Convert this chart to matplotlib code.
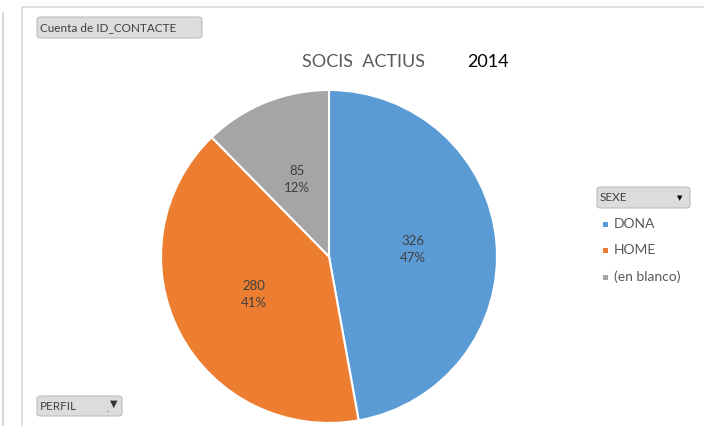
import matplotlib.pyplot as plt
from matplotlib.patches import FancyBboxPatch, Rectangle

plt.rcParams['font.family'] = ['Lato', 'DejaVu Sans']

# data
labels = ['DONA', 'HOME', '(en blanco)']
counts = [326, 280, 85]
colors = ['#5B9BD5', '#ED7D31', '#A5A5A5']

W, H = 704, 426
fig = plt.figure(figsize=(W / 100, H / 100), dpi=100)
fig.patch.set_facecolor('white')


def px(x, y):
    # image pixel coords -> figure fraction
    return x / W, 1 - y / H


# outer frame lines
fig.add_artist(plt.Line2D([3 / W, 3 / W], [0, 1 - 13 / H], color='#D0D0D0', lw=1.2))
fig.add_artist(plt.Line2D([22 / W, 22 / W], [0, 1 - 7 / H], color='#D9D9D9', lw=1.2))
fig.add_artist(plt.Line2D([22 / W, 1], [1 - 7 / H, 1 - 7 / H], color='#D9D9D9', lw=1.2))

# pie
cx, cy, rx, ry = 329, 256.5, 168, 166.5
ax = fig.add_axes([(cx - rx) / W, (H - cy - ry) / H, 2 * rx / W, 2 * ry / H])
total = sum(counts)
wedges, texts, autotexts = ax.pie(
    counts, colors=colors, startangle=90, counterclock=False,
    autopct=lambda p: '{:d}\n{:.0f}%'.format(int(round(p * total / 100)), p),
    pctdistance=0.5, wedgeprops=dict(edgecolor='white', linewidth=1.5),
    textprops=dict(color='#404040', fontsize=9.5, linespacing=1.5))
ax.set_xlim(-1, 1)
ax.set_ylim(-1, 1)
ax.set_aspect('auto')
ax.axis('off')

# title
fig.text(*px(364, 62), 'SOCIS  ACTIUS', ha='center', va='center', fontsize=13, color='#595959')
fig.text(*px(488, 62), '2014', ha='center', va='center', fontsize=13, color='black')


def button(x0, y0, x1, y1, text, fs=8.5):
    bx, by = x0 / W, 1 - y1 / H
    bw, bh = (x1 - x0) / W, (y1 - y0) / H
    fig.add_artist(FancyBboxPatch((bx, by), bw, bh, boxstyle='round,pad=0,rounding_size=0.006',
                                  transform=fig.transFigure, facecolor='#DCDCDC',
                                  edgecolor='#BDBDBD', lw=0.8))
    fig.text((x0 + 3) / W, 1 - (y0 + y1) / 2 / H, text, ha='left', va='center',
             fontsize=fs, color='#404040')


button(37, 17, 202, 38, 'Cuenta de ID_CONTACTE')
button(37, 396, 122, 416, 'PERFIL')
button(597, 187, 690, 208, 'SEXE')

# dropdown / filter icons
fig.text(*px(680, 198), '▼', ha='center', va='center', fontsize=5, color='black')
fig.text(*px(114, 404), '▼', ha='center', va='center', fontsize=7, color='#333333')
fig.text(*px(108, 410), '.', ha='center', va='center', fontsize=6, color='#333333')

# legend
leg_y = [224, 250, 277]
for lab, col, y in zip(labels, colors, leg_y):
    fig.add_artist(Rectangle(((603) / W, 1 - (y + 3) / H), 5 / W, 5 / H,
                             transform=fig.transFigure, facecolor=col, edgecolor='none'))
    fig.text(614 / W, 1 - y / H, lab, ha='left', va='center', fontsize=10, color='#595959')

plt.savefig('out.png', dpi=100)
